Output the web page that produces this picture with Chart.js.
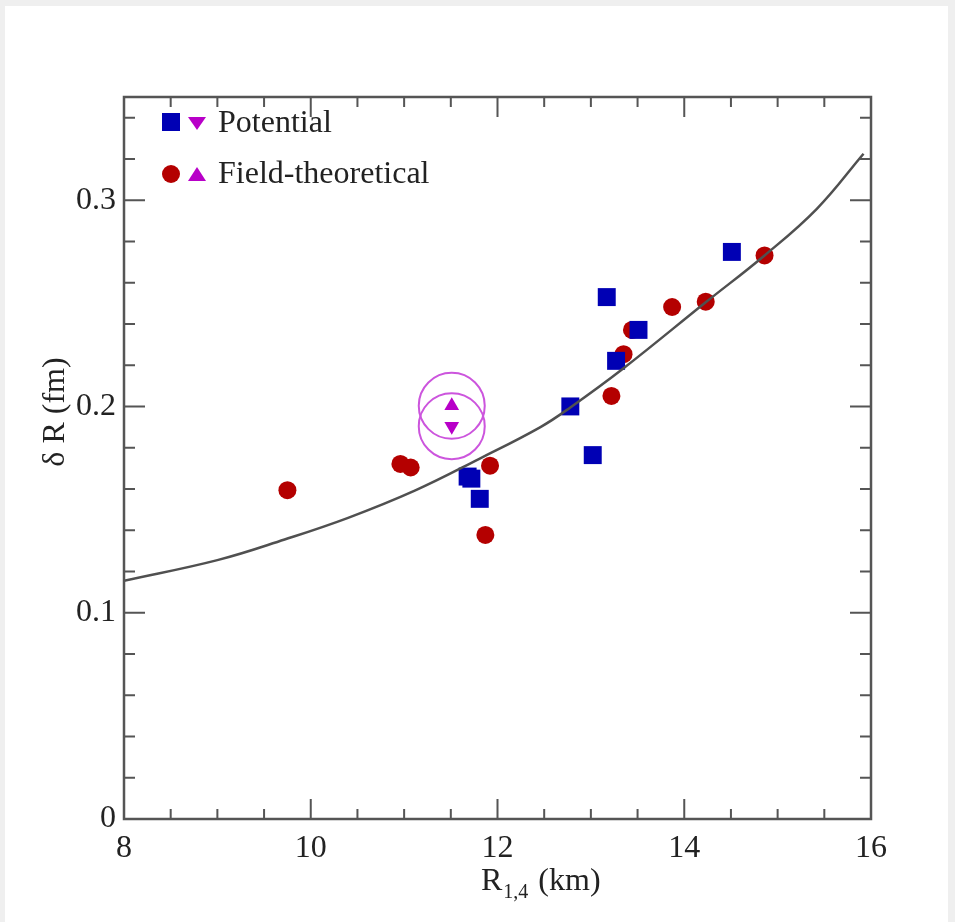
<!DOCTYPE html>
<html>
<head>
<meta charset="utf-8">
<script src="https://cdn.jsdelivr.net/npm/chart.js@4/dist/chart.umd.min.js"></script>
<style>
  body { margin: 0; background: #efefef; }
  #wrap { position: absolute; left: 5px; top: 6px; width: 943px; height: 916px; background: #fff; }
</style>
</head>
<body>
<div id="wrap"><canvas id="chart" width="943" height="916"></canvas></div>
<script>
// DATA
const potX = [11.68, 11.72, 11.81, 12.78, 13.02, 13.17, 13.27, 13.51, 14.51];
const potY = [0.166, 0.165, 0.1552, 0.2000, 0.1764, 0.2530, 0.2221, 0.2371, 0.2749];

const fieldX = [9.75, 10.96, 11.07, 11.92, 11.87, 13.22, 13.35, 13.44, 13.87, 14.23, 14.86];
const fieldY = [0.1594, 0.1721, 0.1704, 0.1713, 0.1377, 0.2051, 0.2253, 0.2371, 0.2482, 0.2508, 0.2732];

const triX = [11.51];
const triUpY = [0.2003];
const triDownY = [0.1904];

const curveX = [8.0, 9.0, 9.72, 10.4, 11.12, 11.8, 12.46, 12.78, 13.35, 14.23, 14.86, 15.42, 15.92];
const curveY = [0.1155, 0.1255, 0.1355, 0.1460, 0.1593, 0.1745, 0.1900, 0.1995, 0.2185, 0.2505, 0.2732, 0.2958, 0.3225];

const xTicks = [8, 10, 12, 14, 16];
const yTicks = [0, 0.1, 0.2, 0.3];

const pts = (xs, ys) => xs.map((x, i) => ({ x, y: ys[i] }));

const SERIF = "'Liberation Serif', 'DejaVu Serif', serif";
const MAG = "#b800c8";

// inward ticks, frame, titles, legend
const decor = {
  id: "decor",
  afterDraw(chart) {
    const { ctx, chartArea: a, scales } = chart;
    const xs = scales.x, ys = scales.y;
    ctx.save();
    ctx.strokeStyle = "#555";
    ctx.lineWidth = 2;
    for (let v = 8; v <= 16.001; v += 0.5) {
      const px = xs.getPixelForValue(v);
      const len = Math.abs(v % 2) < 1e-6 ? 20 : 10;
      ctx.beginPath();
      ctx.moveTo(px, a.bottom); ctx.lineTo(px, a.bottom - len);
      ctx.moveTo(px, a.top); ctx.lineTo(px, a.top + len);
      ctx.stroke();
    }
    for (let i = 0; i <= 17; i++) {
      const v = i * 0.02;
      const py = ys.getPixelForValue(v);
      const len = i % 5 === 0 ? 21 : 11;
      ctx.beginPath();
      ctx.moveTo(a.left, py); ctx.lineTo(a.left + len, py);
      ctx.moveTo(a.right, py); ctx.lineTo(a.right - len, py);
      ctx.stroke();
    }
    ctx.lineWidth = 2.5;
    ctx.strokeRect(a.left, a.top, a.right - a.left, a.bottom - a.top);

    // axis titles
    ctx.fillStyle = "#222";
    ctx.textBaseline = "alphabetic";
    ctx.textAlign = "left";
    ctx.font = "32px " + SERIF;
    let tx = 476, ty = 884;
    ctx.fillText("R", tx, ty);
    tx += ctx.measureText("R").width;
    ctx.font = "20px " + SERIF;
    ctx.fillText("1,4", tx + 1, ty + 8);
    tx += ctx.measureText("1,4").width + 3;
    ctx.font = "32px " + SERIF;
    ctx.fillText(" (km)", tx, ty);

    ctx.save();
    ctx.translate(59, 406);
    ctx.rotate(-Math.PI / 2);
    ctx.textAlign = "center";
    ctx.fillText("\u03B4 R (fm)", 0, 0);
    ctx.restore();

    // legend
    ctx.fillStyle = "#0000b4";
    ctx.fillRect(157, 107, 18, 18);
    ctx.fillStyle = MAG;
    ctx.beginPath();
    ctx.moveTo(183, 111); ctx.lineTo(201, 111); ctx.lineTo(192, 124); ctx.closePath();
    ctx.fill();
    ctx.fillStyle = "#b40000";
    ctx.beginPath();
    ctx.arc(166, 168, 9, 0, Math.PI * 2);
    ctx.fill();
    ctx.fillStyle = MAG;
    ctx.beginPath();
    ctx.moveTo(183, 175); ctx.lineTo(201, 175); ctx.lineTo(192, 161); ctx.closePath();
    ctx.fill();
    ctx.fillStyle = "#222";
    ctx.font = "32px " + SERIF;
    ctx.fillText("Potential", 213, 126);
    ctx.fillText("Field-theoretical", 213, 177);
    ctx.restore();
  }
};

new Chart(document.getElementById("chart"), {
  type: "scatter",
  data: {
    datasets: [
      {
        data: pts(triX, triUpY).concat(pts(triX, triDownY)),
        pointStyle: "circle",
        pointRadius: 33,
        backgroundColor: "rgba(0,0,0,0)",
        borderColor: "#cc55dd",
        borderWidth: 2,
        order: 10
      },
      {
        data: pts(fieldX, fieldY),
        pointStyle: "circle",
        pointRadius: 9,
        backgroundColor: "#b40000",
        borderWidth: 0,
        order: 9
      },
      {
        data: pts(potX, potY),
        pointStyle: "rect",
        pointRadius: 12.7,
        backgroundColor: "#0000b4",
        borderWidth: 0,
        order: 8
      },
      {
        data: pts(triX, triUpY),
        pointStyle: "triangle",
        pointRadius: 8.5,
        backgroundColor: MAG,
        borderWidth: 0,
        order: 7
      },
      {
        data: pts(triX, triDownY),
        pointStyle: "triangle",
        rotation: 180,
        pointRadius: 8.5,
        backgroundColor: MAG,
        borderWidth: 0,
        order: 7
      },
      {
        type: "line",
        data: pts(curveX, curveY),
        borderColor: "#505050",
        borderWidth: 2.5,
        pointRadius: 0,
        tension: 0.4,
        order: 0
      }
    ]
  },
  options: {
    responsive: false,
    animation: false,
    layout: { padding: { left: 0, top: 91, right: 77, bottom: 0 } },
    plugins: { legend: { display: false }, tooltip: { enabled: false } },
    scales: {
      x: {
        type: "linear",
        min: 8,
        max: 16,
        grid: { display: false },
        border: { display: false },
        afterFit: s => { s.height = 103; },
        afterBuildTicks: s => { s.ticks = xTicks.map(v => ({ value: v })); },
        ticks: { font: { family: SERIF, size: 32 }, color: "#222", padding: 2, maxRotation: 0 }
      },
      y: {
        type: "linear",
        min: 0,
        max: 0.35,
        grid: { display: false },
        border: { display: false },
        afterFit: s => { s.width = 119; },
        afterBuildTicks: s => { s.ticks = yTicks.map(v => ({ value: v })); },
        ticks: { font: { family: SERIF, size: 32 }, color: "#222", padding: 0,
                 callback: v => String(Math.round(v * 10) / 10) }
      }
    }
  },
  plugins: [decor]
});
</script>
</body>
</html>
